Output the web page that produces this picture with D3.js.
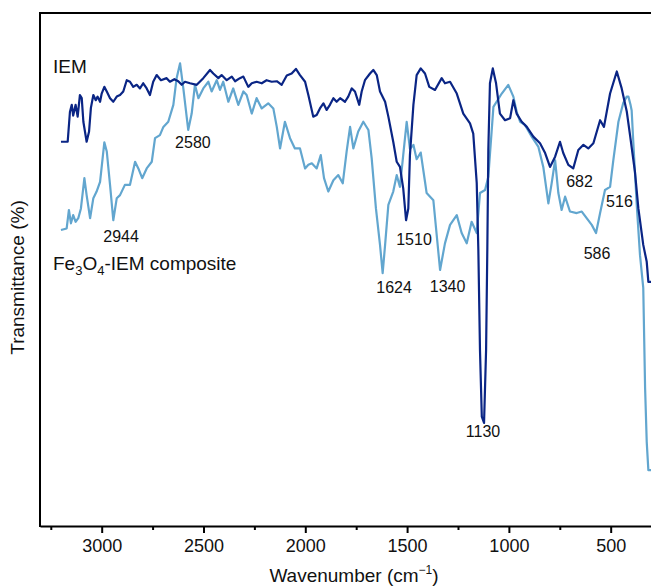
<!DOCTYPE html>
<html>
<head>
<meta charset="utf-8">
<script src="https://cdn.jsdelivr.net/npm/d3@7"></script>
<style>
  body { margin: 0; background: #ffffff; }
  #chart text { font-family: "Liberation Sans", Arial, Helvetica, sans-serif; fill: #111; }
</style>
</head>
<body>
<div id="chart"></div>
<script>
// IR spectra, [wavenumber (cm-1), transmittance (%)]
const iemData = [
  [3200,74.9],[3167,74.9],[3156,80.7],[3147,82.1],[3140,80.0],[3128,82.1],[3118,79.8],[3107,84.0],[3098,83.4],[3090,78.8],
  [3074,74.9],[3062,76.9],[3053,81.5],[3041,84.0],[3029,83.0],[3020,83.7],[3008,82.7],[3000,84.3],[2987,85.6],[2975,84.7],
  [2959,83.4],[2943,82.7],[2926,83.7],[2910,84.0],[2894,84.7],[2877,86.9],[2861,86.6],[2845,85.6],[2828,86.0],[2812,85.3],
  [2796,86.3],[2779,85.3],[2763,84.0],[2747,86.6],[2730,87.9],[2709,86.9],[2681,87.3],[2665,86.6],[2643,87.1],[2624,86.7],
  [2607,86.0],[2591,86.6],[2566,86.3],[2533,86.0],[2501,87.3],[2468,88.9],[2452,88.2],[2427,87.3],[2411,87.9],[2386,86.9],
  [2361,87.6],[2345,86.7],[2321,87.3],[2304,87.6],[2280,85.6],[2263,86.3],[2239,86.6],[2214,86.3],[2190,86.9],[2165,86.6],
  [2140,86.7],[2116,86.0],[2091,87.8],[2067,88.2],[2046,89.1],[2026,87.9],[2001,86.6],[1985,84.0],[1961,79.8],[1944,80.1],
  [1928,81.4],[1911,82.4],[1895,81.1],[1879,82.1],[1862,83.4],[1846,82.7],[1829,83.4],[1805,82.7],[1789,83.7],[1772,85.3],
  [1756,84.7],[1735,82.1],[1723,84.7],[1707,86.9],[1682,88.2],[1666,88.9],[1649,87.9],[1633,84.7],[1608,82.7],[1592,79.8],
  [1568,74.9],[1551,71.0],[1535,70.0],[1519,65.8],[1505,59.6],[1494,61.9],[1486,72.3],[1469,82.1],[1453,87.9],[1433,89.2],
  [1412,88.2],[1391,85.6],[1363,85.0],[1330,87.3],[1314,86.3],[1289,86.6],[1256,84.3],[1224,80.4],[1191,78.5],[1175,76.5],
  [1158,66.9],[1150,53.8],[1142,34.3],[1133,21.3],[1122,20.1],[1112,34.3],[1106,53.8],[1101,73.3],[1093,86.3],[1079,89.2],
  [1063,86.3],[1044,80.4],[1019,79.1],[994,79.5],[978,83.0],[962,80.4],[937,78.8],[912,77.8],[880,75.9],[847,74.6],
  [822,72.7],[798,70.0],[773,72.0],[749,74.9],[733,72.7],[708,70.4],[684,69.7],[659,73.3],[634,74.3],[610,73.6],
  [585,74.6],[552,79.1],[533,77.8],[503,84.3],[470,88.6],[446,85.3],[421,80.8],[405,76.2],[381,69.1],[364,61.9],
  [340,54.8],[323,51.5],[315,47.6],[302,47.6]
];

const compositeData = [
  [3200,57.7],[3172,58.0],[3161,61.6],[3151,59.0],[3140,60.6],[3128,59.3],[3115,60.0],[3102,61.9],[3085,67.8],[3074,64.5],
  [3057,60.0],[3041,63.9],[3025,65.2],[3008,67.1],[2987,74.8],[2975,73.0],[2959,66.5],[2943,59.6],[2926,63.9],[2910,64.5],
  [2886,66.5],[2861,66.5],[2836,71.0],[2820,69.7],[2801,67.8],[2779,69.7],[2754,71.0],[2738,75.6],[2714,76.2],[2697,77.8],
  [2673,78.8],[2648,82.1],[2632,87.3],[2615,90.2],[2599,85.3],[2575,77.2],[2558,80.4],[2542,86.0],[2525,83.4],[2501,85.3],
  [2476,86.6],[2460,84.7],[2435,86.9],[2419,85.0],[2403,86.6],[2378,82.7],[2354,85.3],[2329,82.1],[2304,84.7],[2288,84.0],
  [2263,80.4],[2239,83.4],[2214,81.4],[2182,82.4],[2157,81.4],[2140,77.8],[2124,73.6],[2100,78.8],[2075,75.6],[2051,73.6],
  [2026,73.6],[2001,69.7],[1985,70.4],[1968,70.7],[1944,69.7],[1924,72.3],[1908,67.8],[1887,65.2],[1862,67.4],[1838,68.4],
  [1816,66.8],[1797,73.0],[1780,77.8],[1764,73.6],[1740,76.9],[1715,78.8],[1690,77.2],[1674,71.7],[1653,61.9],[1633,54.8],
  [1620,49.3],[1608,54.8],[1592,62.6],[1568,65.2],[1551,68.4],[1535,66.1],[1519,72.3],[1502,78.8],[1486,73.5],[1469,74.3],
  [1453,71.5],[1433,72.8],[1412,67.1],[1404,64.9],[1371,63.5],[1338,49.9],[1314,55.1],[1289,58.7],[1256,60.6],[1232,57.1],
  [1207,55.1],[1183,59.3],[1158,57.1],[1142,64.9],[1117,65.5],[1101,68.1],[1076,81.7],[1035,84.3],[1003,86.0],[978,83.7],
  [962,80.8],[945,78.8],[921,78.2],[888,75.9],[855,73.9],[831,70.0],[806,62.9],[790,66.8],[773,71.3],[757,64.9],
  [741,61.6],[724,64.2],[700,61.3],[667,61.0],[642,61.3],[618,60.0],[593,58.7],[572,57.1],[552,61.0],[528,65.5],
  [503,66.1],[487,71.3],[462,78.8],[438,82.5],[421,83.7],[413,83.7],[402,82.0],[397,81.0],[389,74.9],[372,62.6],
  [356,52.8],[340,46.4],[331,26.9],[323,16.4],[315,10.9],[302,10.9]
];

const majorTicks = [3000, 2500, 2000, 1500, 1000, 500];
const minorTicks = [3250, 2750, 2250, 1750, 1250, 750];

// peak annotations: [text, wavenumber, transmittance] of the label anchor
const peakLabels = [
  ["2944", 2905, 55.4], ["2580", 2552, 73.7], ["1624", 1564, 45.4], ["1510", 1466, 54.8],
  ["1340", 1301, 45.6], ["1130", 1127, 17.3], ["682", 653, 66.1], ["516", 457, 62.2], ["586", 567, 52.0]
];

const W = 651, H = 587;
const margin = { top: 13, right: 0, bottom: 61, left: 40 };

const svg = d3.select("#chart").append("svg")
    .attr("width", W)
    .attr("height", H);

// scales: wavenumber runs right-to-left
const x = d3.scaleLinear().domain([3303, 302]).range([margin.left, W - margin.right]);
const y = d3.scaleLinear().domain([0, 100]).range([H - margin.bottom, margin.top]);

svg.append("clipPath").attr("id", "plot-clip")
   .append("rect")
   .attr("x", margin.left)
   .attr("y", margin.top)
   .attr("width", W - margin.left)
   .attr("height", H - margin.bottom - margin.top);

const line = d3.line()
    .x(d => x(d[0]))
    .y(d => y(d[1]));

const plot = svg.append("g").attr("clip-path", "url(#plot-clip)");

plot.append("path")
    .datum(compositeData)
    .attr("fill", "none")
    .attr("stroke", "#62a6cf")
    .attr("stroke-width", 2.2)
    .attr("stroke-linejoin", "round")
    .attr("d", line);

plot.append("path")
    .datum(iemData)
    .attr("fill", "none")
    .attr("stroke", "#0a2585")
    .attr("stroke-width", 2.2)
    .attr("stroke-linejoin", "round")
    .attr("d", line);

// frame (right side runs off the page)
svg.append("line")
   .attr("x1", margin.left).attr("x2", W)
   .attr("y1", y(100)).attr("y2", y(100))
   .attr("stroke", "#000").attr("stroke-width", 2);
svg.append("line")
   .attr("x1", margin.left).attr("x2", margin.left)
   .attr("y1", y(100) - 1).attr("y2", y(0) + 1)
   .attr("stroke", "#000").attr("stroke-width", 2);

// x axis, major + minor ticks
const xAxis = svg.append("g")
    .attr("transform", `translate(0,${y(0)})`)
    .call(d3.axisBottom(x).tickValues(majorTicks).tickFormat(d3.format("d"))
          .tickSize(7).tickSizeOuter(0).tickPadding(6));
xAxis.select(".domain").attr("stroke-width", 2);
xAxis.selectAll(".tick line").attr("stroke-width", 2);
xAxis.selectAll(".tick text").attr("font-size", 18);

const xMinor = svg.append("g")
    .attr("transform", `translate(0,${y(0)})`)
    .call(d3.axisBottom(x).tickValues(minorTicks).tickSize(4).tickFormat(""));
xMinor.select(".domain").remove();
xMinor.selectAll(".tick line").attr("stroke-width", 2);

// axis titles
const xTitle = svg.append("text")
    .attr("x", 354)
    .attr("y", 582)
    .attr("text-anchor", "middle")
    .attr("font-size", 19);
xTitle.append("tspan").text("Wavenumber (cm");
xTitle.append("tspan").attr("font-size", 12).attr("dy", -8).text("\u22121");
xTitle.append("tspan").attr("dy", 8).text(")");

svg.append("text")
   .attr("transform", `translate(24,${(y(0) + y(100)) / 2 + 8}) rotate(-90)`)
   .attr("text-anchor", "middle")
   .attr("font-size", 19)
   .text("Transmittance (%)");

// series labels
svg.append("text")
   .attr("x", x(3239)).attr("y", y(88.3))
   .attr("font-size", 19)
   .text("IEM");

const compLabel = svg.append("text")
    .attr("x", x(3239)).attr("y", y(49.9))
    .attr("font-size", 19);
compLabel.append("tspan").text("Fe");
compLabel.append("tspan").attr("font-size", 13).attr("dy", 5).text("3");
compLabel.append("tspan").attr("dy", -5).text("O");
compLabel.append("tspan").attr("font-size", 13).attr("dy", 5).text("4");
compLabel.append("tspan").attr("dy", -5).text("-IEM composite");

// peak labels
svg.selectAll(".peak")
   .data(peakLabels)
   .enter()
   .append("text")
   .attr("class", "peak")
   .attr("x", d => x(d[1]))
   .attr("y", d => y(d[2]))
   .attr("text-anchor", "middle")
   .attr("font-size", 16)
   .text(d => d[0]);
</script>
</body>
</html>
